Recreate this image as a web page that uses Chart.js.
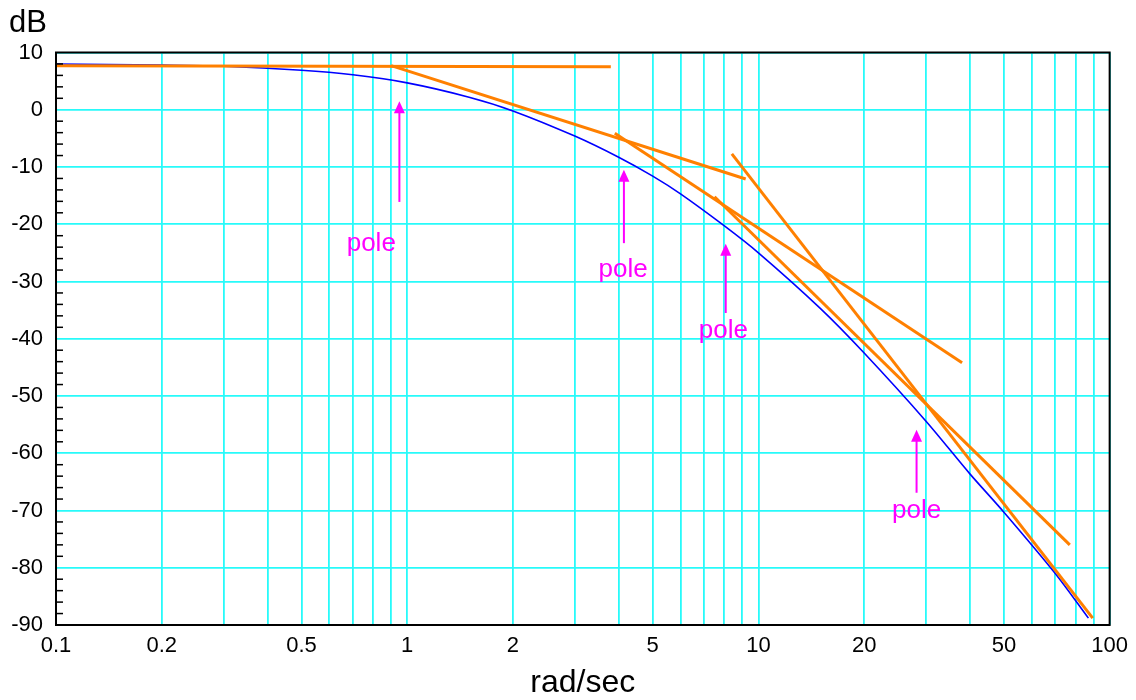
<!DOCTYPE html>
<html>
<head>
<meta charset="utf-8">
<script src="https://cdn.jsdelivr.net/npm/chart.js@4.4.1/dist/chart.umd.min.js"></script>
<style>
  body { margin: 0; background: #fff; }
  canvas { display: block; }
</style>
</head>
<body>
<canvas id="bode" width="1136" height="700"></canvas>
<script>
// magnitude response (rad/sec, dB)
const freq   = [0.1, 0.2, 0.3, 0.5, 0.7, 1, 1.5, 2, 3, 4, 5, 6, 8, 10, 15, 20, 30, 40, 50, 70, 87];
const gainDb = [8.0, 7.8, 7.6, 6.9, 6.1, 4.7, 2.2, -0.2, -4.6, -8.3, -11.6, -14.7, -20.3, -25.0, -34.7, -42.5, -54.4, -63.6, -70.3, -81.0, -88.8];

// straight-line asymptotes
const asymStartX = [0.1, 0.9, 3.9, 7.5, 8.4];
const asymStartY = [7.7, 7.7, -4.1, -15.2, -7.7];
const asymEndX   = [3.8, 9.2, 38, 77, 89.5];
const asymEndY   = [7.5, -12.1, -44.2, -76.0, -88.8];

// pole markers
const poleX      = [0.95, 4.14, 8.07, 28.2];
const poleTipY   = [1.5, -10.5, -23.4, -55.9];
const poleTailY  = [-16.1, -23.3, -35.5, -66.9];
const poleLabelX = [0.79, 4.12, 7.95, 28.2];
const poleLabelY = [-23.4, -28.0, -38.7, -70.1];

// axes
const xGridVals = [0.1, 0.2, 0.3, 0.4, 0.5, 0.6, 0.7, 0.8, 0.9,
                   1, 2, 3, 4, 5, 6, 7, 8, 9,
                   10, 20, 30, 40, 50, 60, 70, 80, 90, 100];
const xTickLabels = [0.1, 0.2, 0.5, 1, 2, 5, 10, 20, 50, 100];
const yMin = -90, yMax = 10;

const FONT = '"Liberation Sans", Arial, Helvetica, sans-serif';
const CYAN = 'rgb(40,250,250)';
const ORANGE = 'rgb(255,128,0)';
const MAGENTA = 'rgb(255,0,255)';

const datasets = [{
  data: freq.map((f, i) => ({ x: f, y: gainDb[i] })),
  borderColor: 'rgb(0,0,255)',
  borderWidth: 1.6,
  pointRadius: 0,
  showLine: true,
  tension: 0.3,
  order: 2
}];
asymStartX.forEach((x0, i) => {
  datasets.push({
    data: [{ x: x0, y: asymStartY[i] }, { x: asymEndX[i], y: asymEndY[i] }],
    borderColor: ORANGE,
    borderWidth: 3,
    pointRadius: 0,
    showLine: true,
    order: 1
  });
});

// frame, inner minor ticks, pole arrows and the dB label
const extras = {
  id: 'extras',
  afterDatasetsDraw(chart) {
    const { ctx, chartArea: a, scales: { x, y } } = chart;
    ctx.save();

    ctx.strokeStyle = '#000';
    ctx.lineWidth = 1.5;
    for (let v = yMin + 2; v < yMax; v += 2) {
      if (v % 10 === 0) continue;
      const py = y.getPixelForValue(v);
      ctx.beginPath();
      ctx.moveTo(a.left, py);
      ctx.lineTo(a.left + 7, py);
      ctx.stroke();
    }

    ctx.lineWidth = 2;
    ctx.strokeRect(a.left, a.top, a.right - a.left, a.bottom - a.top);

    ctx.strokeStyle = MAGENTA;
    ctx.fillStyle = MAGENTA;
    ctx.font = '26px ' + FONT;
    ctx.textAlign = 'center';
    ctx.textBaseline = 'middle';
    poleX.forEach((f, i) => {
      const px = x.getPixelForValue(f);
      const tip = y.getPixelForValue(poleTipY[i]);
      const tail = y.getPixelForValue(poleTailY[i]);
      ctx.lineWidth = 2;
      ctx.beginPath();
      ctx.moveTo(px, tail);
      ctx.lineTo(px, tip + 10);
      ctx.stroke();
      ctx.beginPath();
      ctx.moveTo(px, tip);
      ctx.lineTo(px - 5.5, tip + 12);
      ctx.lineTo(px + 5.5, tip + 12);
      ctx.closePath();
      ctx.fill();
      ctx.fillText('pole', x.getPixelForValue(poleLabelX[i]), y.getPixelForValue(poleLabelY[i]));
    });

    ctx.fillStyle = '#000';
    ctx.font = '31px ' + FONT;
    ctx.textAlign = 'left';
    ctx.textBaseline = 'alphabetic';
    ctx.fillText('dB', 9, 32);
    ctx.restore();
  }
};

new Chart(document.getElementById('bode'), {
  type: 'scatter',
  data: { datasets },
  options: {
    responsive: false,
    animation: false,
    layout: { padding: { left: 0, right: 26, top: 52.5, bottom: 0 } },
    plugins: { legend: { display: false }, tooltip: { enabled: false } },
    scales: {
      x: {
        type: 'logarithmic',
        min: 0.1,
        max: 100,
        afterBuildTicks: s => { s.ticks = xGridVals.map(v => ({ value: v })); },
        afterFit: s => { s.height = 75; },
        ticks: {
          autoSkip: false,
          maxRotation: 0,
          padding: 8,
          color: '#000',
          font: { family: FONT, size: 22 },
          callback: v => xTickLabels.includes(v) ? String(v) : ''
        },
        grid: { color: CYAN, lineWidth: 1.8, drawTicks: false },
        border: { display: false },
        title: {
          display: true,
          text: 'rad/sec',
          color: '#000',
          font: { family: FONT, size: 32, lineHeight: 1 },
          padding: { top: 0, bottom: 1 }
        }
      },
      y: {
        min: yMin,
        max: yMax,
        afterFit: s => { s.width = 56; },
        ticks: {
          stepSize: 10,
          padding: 13,
          color: '#000',
          font: { family: FONT, size: 22 }
        },
        grid: { color: CYAN, lineWidth: 1.8, drawTicks: false },
        border: { display: false }
      }
    }
  },
  plugins: [extras]
});
</script>
</body>
</html>
